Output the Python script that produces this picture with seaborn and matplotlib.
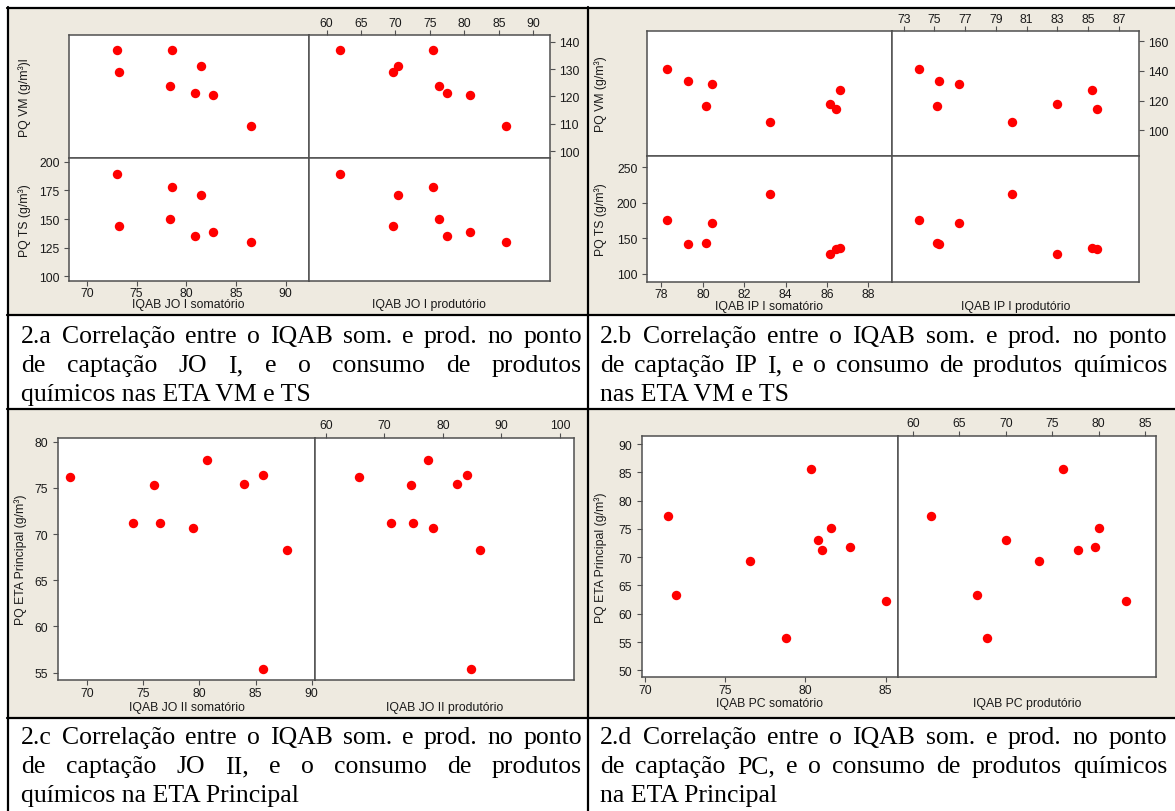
"""Matrix scatter plots: IQAB (somatório / produtório) vs chemical consumption, 4 panels."""

import matplotlib.pyplot as plt
import seaborn as sns
from matplotlib.lines import Line2D
from matplotlib.patches import Rectangle

W, H = 1175, 812

# --- 2.a  ponto JO I, ETA VM e TS
jo1_som = [73.03, 73.26, 78.37, 78.60, 80.90, 81.44, 82.69, 86.55]
jo1_prod = [61.9, 69.6, 76.3, 75.5, 77.5, 70.4, 80.8, 86.0]
jo1_vm = [136.8, 129.1, 124.0, 136.8, 121.2, 131.2, 120.6, 109.4]
jo1_ts = [189.5, 143.9, 150.0, 177.6, 135.2, 170.9, 138.7, 130.0]

# --- 2.b  ponto IP I, ETA VM e TS
ip1_som = [78.27, 79.30, 80.13, 80.44, 83.26, 86.12, 86.41, 86.63]
ip1_prod = [74.0, 75.32, 75.17, 76.61, 80.02, 82.95, 85.59, 85.27]
ip1_vm = [141.3, 133.3, 116.2, 131.5, 105.4, 118.0, 114.4, 127.2]
ip1_ts = [175.7, 141.4, 142.8, 171.5, 212.9, 127.9, 134.3, 136.7]

# --- 2.c  ponto JO II, ETA Principal
jo2_som = [68.46, 74.06, 75.94, 76.51, 79.43, 80.64, 83.96, 85.67, 87.82, 85.67]
jo2_prod = [65.66, 71.13, 74.53, 74.92, 78.33, 77.43, 82.32, 84.18, 86.3, 84.82]
jo2_eta = [76.21, 71.23, 75.27, 71.23, 70.66, 77.98, 75.45, 76.39, 68.24, 55.43]

# --- 2.d  ponto PC, ETA Principal
pc_som = [71.40, 71.94, 76.52, 78.79, 80.35, 80.75, 81.03, 81.57, 82.76, 85.00]
pc_prod = [61.98, 66.90, 73.55, 68.02, 76.17, 70.0, 77.74, 80.04, 79.60, 82.90]
pc_eta = [77.22, 63.25, 69.32, 55.65, 85.58, 73.09, 71.27, 75.10, 71.74, 62.31]

captions = {
    "a": ["2.a Correlação entre o IQAB som. e prod. no ponto",
          "de captação JO I, e o consumo de produtos",
          "químicos nas ETA VM e TS"],
    "b": ["2.b Correlação entre o IQAB som. e prod. no ponto",
          "de captação IP I, e o consumo de produtos químicos",
          "nas ETA VM e TS"],
    "c": ["2.c Correlação entre o IQAB som. e prod. no ponto",
          "de captação JO II, e o consumo de produtos",
          "químicos na ETA Principal"],
    "d": ["2.d Correlação entre o IQAB som. e prod. no ponto",
          "de captação PC, e o consumo de produtos químicos",
          "na ETA Principal"],
}

RED = "#ff0000"
AXC = "#505050"
BEIGE = "#eeeae0"
SANS = ["Liberation Sans", "DejaVu Sans"]
SERIF = ["Liberation Serif", "DejaVu Serif"]
CAP_SIZE = 18.5
TICK_SIZE = 8.7
LAB_SIZE = 8.8

sns.set_theme(style="white")
plt.rcParams["font.family"] = SANS


def fx(px):
    return px / W


def fy(py):
    return 1 - py / H


fig = plt.figure(figsize=(W / 100, H / 100), dpi=100)
fig.patch.set_facecolor("white")

# table background and rules
for x0, y0, x1, y1 in [(9, 10, 587, 315), (589, 10, 1175, 315),
                       (9, 411, 587, 718), (589, 411, 1175, 718)]:
    fig.add_artist(Rectangle((fx(x0), fy(y1)), fx(x1 - x0), (y1 - y0) / H,
                             transform=fig.transFigure, facecolor=BEIGE,
                             edgecolor="none", zorder=0))
for xs, ys in [((7, 1175), (9, 9)), ((7, 1175), (316, 316)), ((7, 1175), (410, 410)),
               ((7, 1175), (719, 719)), ((8, 8), (8, 812)), ((588, 588), (8, 812))]:
    fig.add_artist(Line2D([fx(v) for v in xs], [fy(v) for v in ys],
                          transform=fig.transFigure, color="black", lw=1.6, zorder=1))


def add_ax(l, t, r, b):
    ax = fig.add_axes([fx(l), fy(b), fx(r - l), (b - t) / H])
    ax.set_facecolor("white")
    for s in ax.spines.values():
        s.set_color(AXC)
        s.set_linewidth(1.1)
    ax.tick_params(axis="both", direction="out", length=3.3, width=0.8, color=AXC,
                   labelsize=TICK_SIZE, labelcolor="#1a1a1a",
                   top=False, bottom=False, left=False, right=False,
                   labeltop=False, labelbottom=False, labelleft=False, labelright=False)
    ax.tick_params(axis="x", pad=1.2)
    ax.tick_params(axis="y", pad=3.5)
    return ax


def dots(ax, x, y, xlim, ylim, xticks, yticks):
    sns.scatterplot(x=x, y=y, ax=ax, color=RED, s=46, linewidth=0, legend=False, zorder=3)
    ax.set_xlim(*xlim)
    ax.set_ylim(*ylim)
    ax.set_xticks(xticks)
    ax.set_yticks(yticks)
    ax.set_xlabel("")
    ax.set_ylabel("")


def xlabel(text, xc, yc):
    fig.text(fx(xc), fy(yc), text, fontsize=LAB_SIZE, color="#1a1a1a",
             ha="center", va="center")


def ylabel(text, xc, yc):
    fig.text(fx(xc), fy(yc), text, fontsize=LAB_SIZE, color="#1a1a1a",
             ha="center", va="center", rotation=90)


def matrix4(box, som, prod, vm, ts, lims, ticks, names, ylab_x, xlab_y):
    l, m, r, t, ym, b = box
    tl = add_ax(l, t, m, ym)
    tr = add_ax(m, t, r, ym)
    bl = add_ax(l, ym, m, b)
    br = add_ax(m, ym, r, b)
    dots(tl, som, vm, lims[0], lims[2], ticks[0], ticks[2])
    dots(tr, prod, vm, lims[1], lims[2], ticks[1], ticks[2])
    dots(bl, som, ts, lims[0], lims[3], ticks[0], ticks[3])
    dots(br, prod, ts, lims[1], lims[3], ticks[1], ticks[3])
    tr.tick_params(top=True, labeltop=True, right=True, labelright=True)
    bl.tick_params(bottom=True, labelbottom=True, left=True, labelleft=True)
    ylabel(names[2], ylab_x, (t + ym) / 2)
    ylabel(names[3], ylab_x, (ym + b) / 2)
    xlabel(names[0], (l + m) / 2, xlab_y)
    xlabel(names[1], (m + r) / 2, xlab_y)


def matrix2(box, som, prod, eta, lims, ticks, names, ylab_x, xlab_y):
    l, m, r, t, b = box
    lf = add_ax(l, t, m, b)
    rt = add_ax(m, t, r, b)
    dots(lf, som, eta, lims[0], lims[2], ticks[0], ticks[2])
    dots(rt, prod, eta, lims[1], lims[2], ticks[1], ticks[2])
    rt.tick_params(top=True, labeltop=True)
    lf.tick_params(bottom=True, labelbottom=True, left=True, labelleft=True)
    ylabel(names[2], ylab_x, (t + b) / 2)
    xlabel(names[0], (l + m) / 2, xlab_y)
    xlabel(names[1], (m + r) / 2, xlab_y)


matrix4((68.9, 308.6, 549.5, 36.0, 158.7, 281.7), jo1_som, jo1_prod, jo1_vm, jo1_ts,
        [(68.2, 92.3), (57.4, 92.35), (97.7, 142.4), (96.2, 203.5)],
        [range(70, 91, 5), range(60, 91, 5), range(100, 141, 10), range(100, 201, 25)],
        ["IQAB JO I somatório", "IQAB JO I produtório", "PQ VM (g/m³)l", "PQ TS (g/m³)"],
        24.5, 305)

matrix4((646.8, 892.0, 1138.8, 32.3, 156.7, 282.7), ip1_som, ip1_prod, ip1_vm, ip1_ts,
        [(77.29, 89.14), (72.24, 88.29), (82.9, 166.7), (88.7, 266.5)],
        [range(78, 89, 2), range(73, 88, 2), range(100, 161, 20), range(100, 251, 50)],
        ["IQAB IP I somatório", "IQAB IP I produtório", "PQ VM (g/m³)", "PQ TS (g/m³)"],
        601, 306.7)

matrix2((57.6, 315.4, 574.0, 438.7, 681.3), jo2_som, jo2_prod, jo2_eta,
        [(67.35, 90.34), (58.2, 102.4), (54.17, 80.43)],
        [range(70, 91, 5), range(60, 101, 10), range(55, 81, 5)],
        ["IQAB JO II somatório", "IQAB JO II produtório", "PQ ETA Principal (g/m³)"],
        20.7, 708)

matrix2((641.5, 898.0, 1156.3, 436.7, 678.3), pc_som, pc_prod, pc_eta,
        [(69.77, 85.77), (58.39, 86.21), (48.76, 91.47)],
        [range(70, 86, 5), range(60, 86, 5), range(50, 91, 5)],
        ["IQAB PC somatório", "IQAB PC produtório", "PQ ETA Principal (g/m³)"],
        600.4, 704)

# captions, justified like the Word table cells
renderer = fig.canvas.get_renderer()


def cap_text(x, yb, s):
    return fig.text(fx(x), fy(yb), s, fontsize=CAP_SIZE, family=SERIF,
                    va="baseline", color="black")


def caption(lines, x0, x1, baselines):
    for i, (line, yb) in enumerate(zip(lines, baselines)):
        if i == len(lines) - 1:
            cap_text(x0, yb, line)
            continue
        words = line.split()
        arts = [cap_text(0, yb, w) for w in words]
        widths = [a.get_window_extent(renderer).width for a in arts]
        gap = (x1 - x0 - sum(widths)) / (len(words) - 1)
        x = x0
        for a, w in zip(arts, widths):
            a.set_x(fx(x))
            x += w + gap


caption(captions["a"], 21, 582, [343, 372, 401])
caption(captions["b"], 600, 1167, [343, 372, 401])
caption(captions["c"], 21, 582, [744, 773, 802])
caption(captions["d"], 600, 1167, [744, 773, 802])

fig.savefig("out.png", dpi=100)
